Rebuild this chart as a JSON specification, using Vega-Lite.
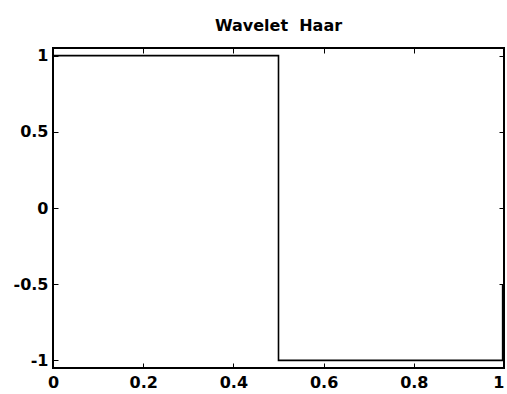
{
  "$schema": "https://vega.github.io/schema/vega-lite/v6.json",
  "autosize": "none",
  "width": 451,
  "height": 320,
  "padding": {"left": 53, "top": 48, "right": 3, "bottom": 26},
  "background": "white",
  "config": {
    "view": {"stroke": "black", "strokeWidth": 2},
    "font": "DejaVu Sans",
    "axis": {"grid": false, "domain": false, "tickColor": "black", "tickWidth": 1, "tickSize": -5, "labelFont": "DejaVu Sans", "labelFontWeight": "bold", "labelFontSize": 16, "labelColor": "black", "title": null, "labelExpr": "toString(datum.value)"}
  },
  "title": {"text": "Wavelet\u00a0\u00a0Haar", "font": "DejaVu Sans", "fontWeight": "bold", "fontSize": 16, "color": "black", "offset": 14},
  "data": {"values": [
    {"x": 0, "y": 1},
    {"x": 0.5, "y": 1},
    {"x": 0.5, "y": -1},
    {"x": 0.997, "y": -1},
    {"x": 0.997, "y": -0.5}
  ]},
  "layer": [
    {
      "mark": {"type": "line", "color": "black", "strokeWidth": 1.6, "interpolate": "linear"},
      "encoding": {
        "x": {"field": "x", "type": "quantitative", "scale": {"domain": [0, 1], "nice": false, "zero": false}, "axis": {"orient": "bottom", "values": [0, 0.2, 0.4, 0.6, 0.8, 1], "labelPadding": 11, "labelFlush": false, "labelAlign": {"condition": {"test": "datum.value == 1", "value": "right"}, "value": "center"}}},
        "y": {"field": "y", "type": "quantitative", "scale": {"domain": [-1.05, 1.05], "nice": false, "zero": false}, "axis": {"orient": "left", "values": [-1, -0.5, 0, 0.5, 1], "labelPadding": 10, "labelFlush": false}},
        "order": {"value": 0}
      }
    },
    {
      "mark": {"type": "line", "color": "black", "strokeWidth": 1.5, "opacity": 0},
      "encoding": {
        "x": {"field": "x", "type": "quantitative", "scale": {"domain": [0, 1], "nice": false, "zero": false}, "axis": {"orient": "top", "values": [0, 0.2, 0.4, 0.6, 0.8, 1], "labels": false}},
        "y": {"field": "y", "type": "quantitative", "scale": {"domain": [-1.05, 1.05], "nice": false, "zero": false}, "axis": {"orient": "right", "values": [-1, -0.5, 0, 0.5, 1], "labels": false}}
      }
    }
  ],
  "resolve": {"axis": {"x": "independent", "y": "independent"}}
}
